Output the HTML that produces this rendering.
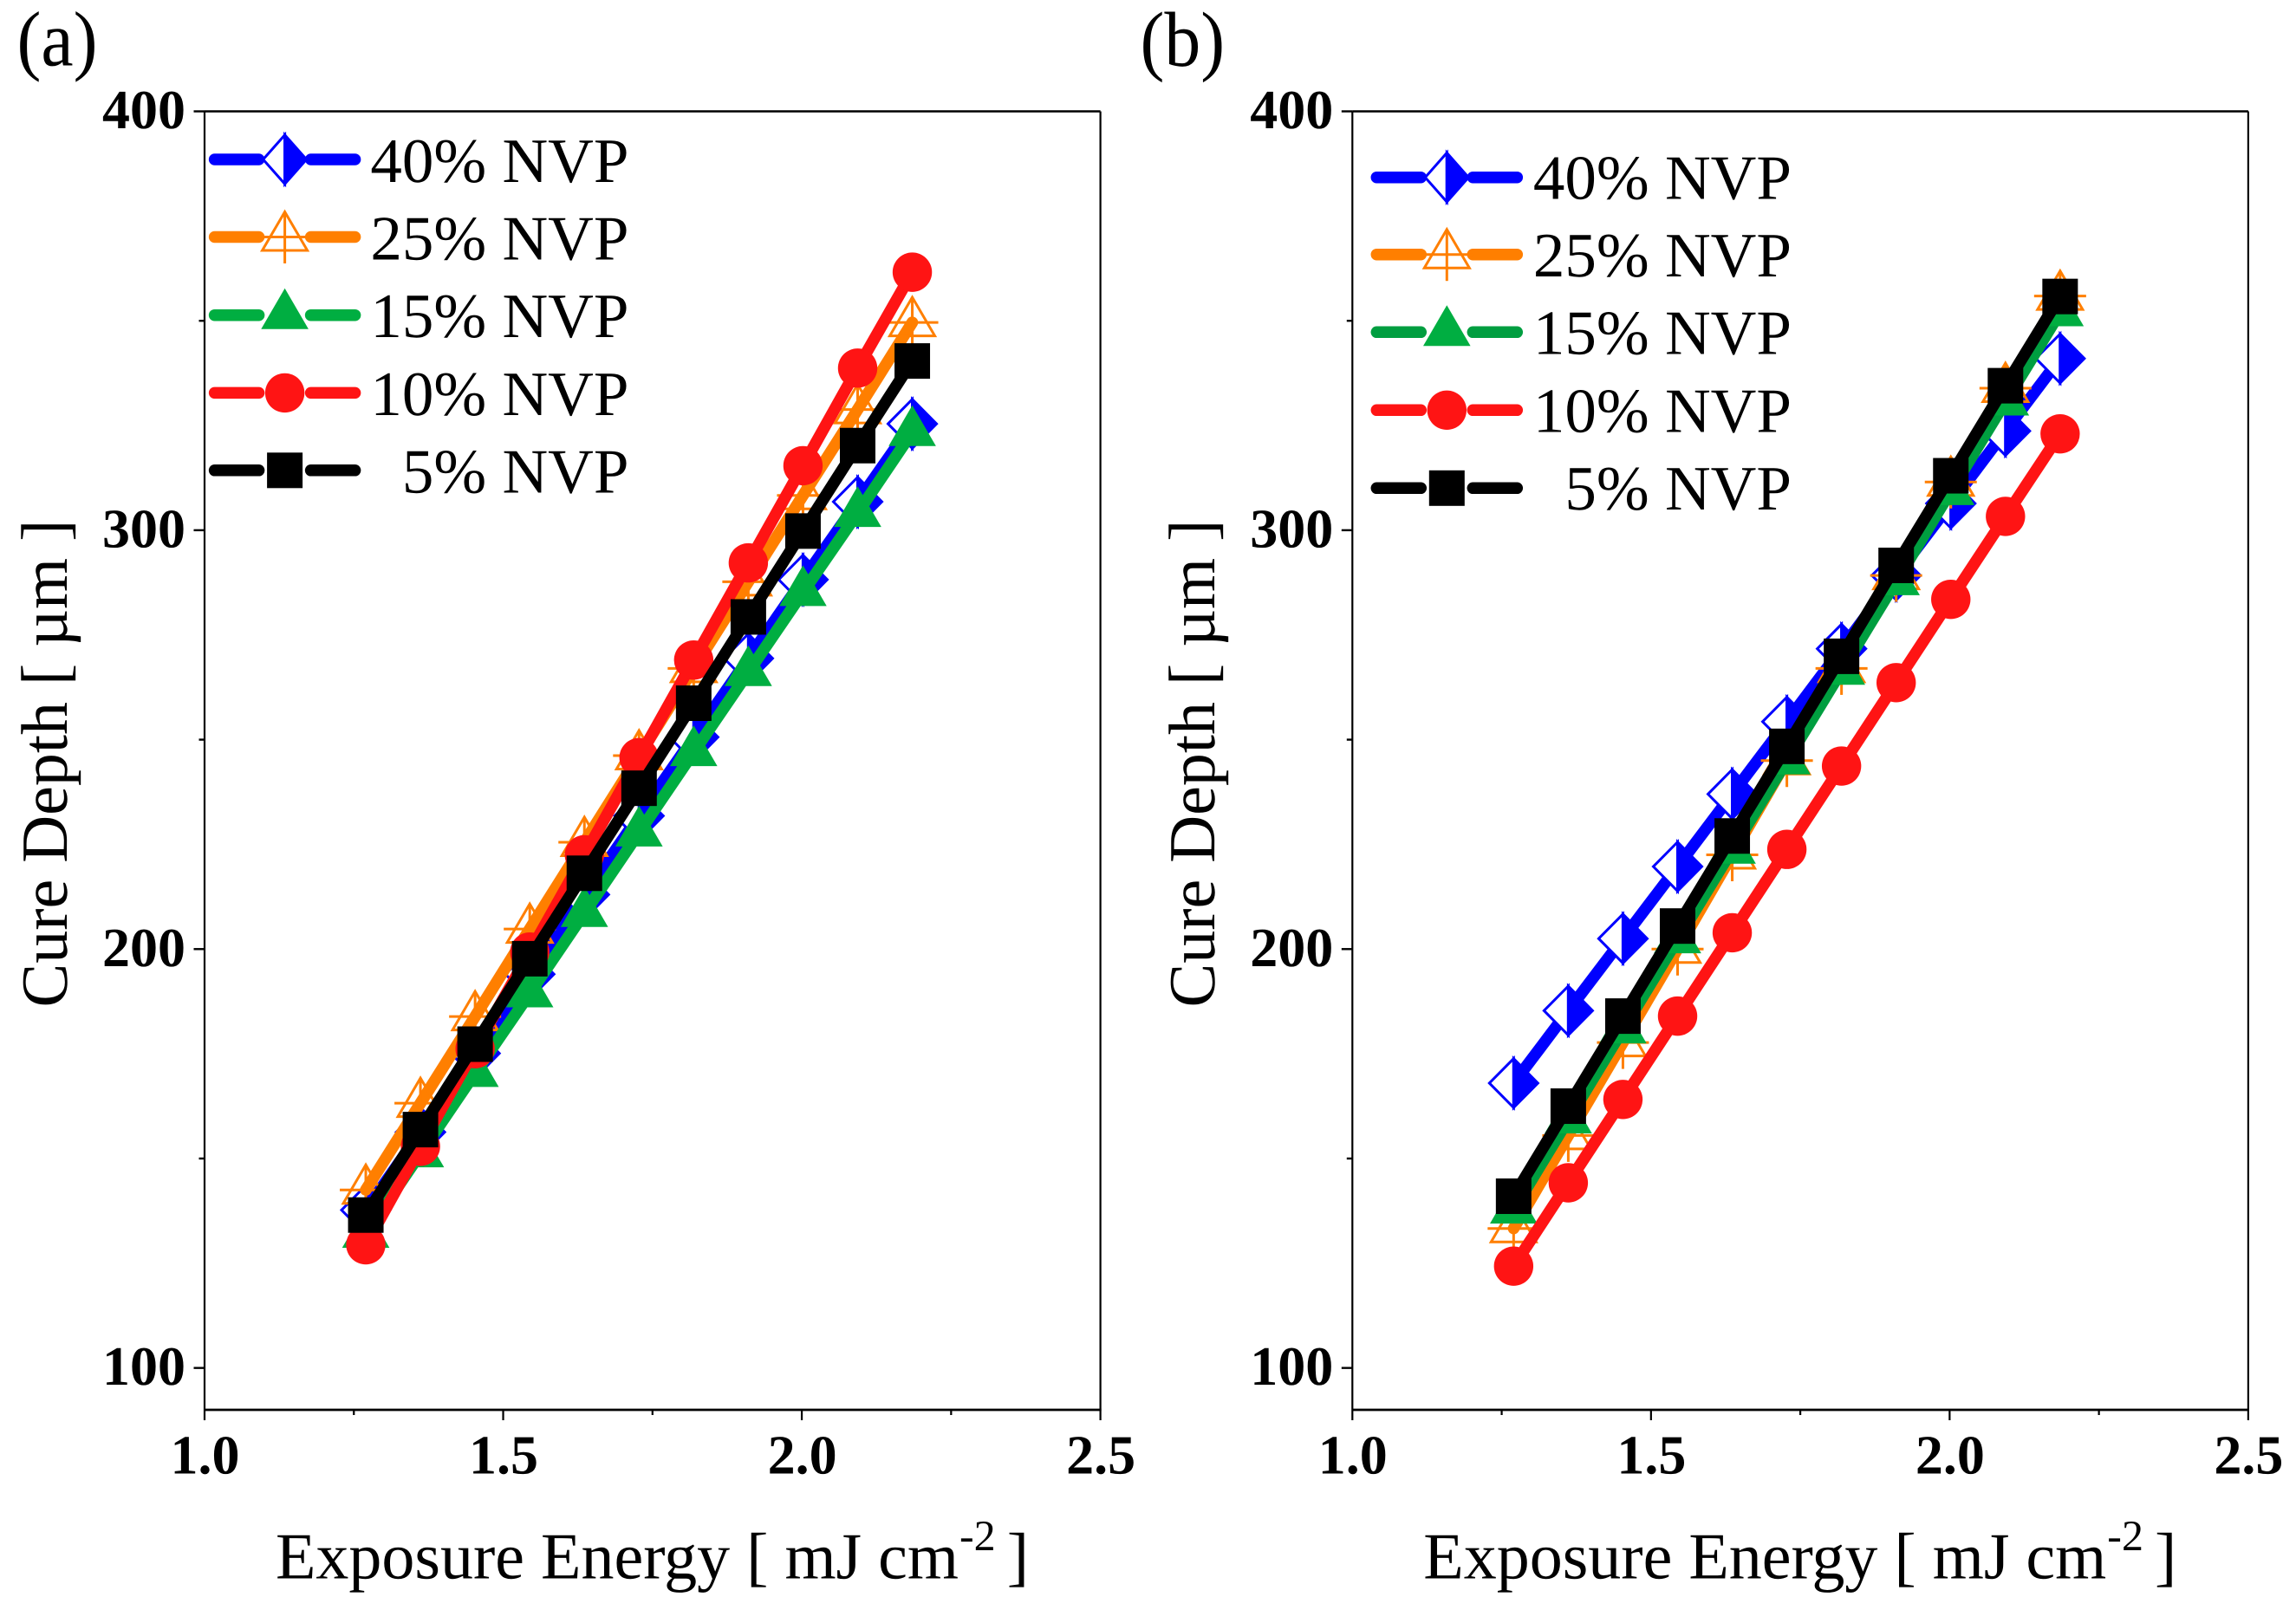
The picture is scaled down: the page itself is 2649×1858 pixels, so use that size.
<!DOCTYPE html>
<html lang="en">
<head>
<meta charset="utf-8">
<title>Cure Depth vs Exposure Energy</title>
<style>
  html, body { margin: 0; padding: 0; background: #fff; }
  svg { display: block; }
  text { font-family: "Liberation Serif", "Times New Roman", serif; fill: #000; text-rendering: geometricPrecision; }
  .title { font-size: 76px; }
  .legend-text { font-size: 73px; text-anchor: end; }
  .panel-label { font-size: 90px; }
  .tick-label { font-size: 64px; font-weight: bold; }
</style>
</head>
<body>
<svg id="figure" xmlns="http://www.w3.org/2000/svg" width="2649" height="1858" viewBox="0 0 2649 1858">
  <rect x="0" y="0" width="2649" height="1858" fill="#ffffff"/>

  <g id="panel-a">
    <text class="panel-label" x="19.5" y="75.5" textLength="93" lengthAdjust="spacingAndGlyphs">(a)</text>
    <g id="panel-a-axes"></g>
    <g id="panel-a-series"></g>
    <text class="title" text-anchor="middle" transform="translate(77,881) rotate(-90)">Cure Depth [ µm ]</text>
    <text class="title" x="318" y="1821.5">Exposure Energy [ mJ cm</text>
    <text x="1107" y="1789" font-size="50">-2</text>
    <text class="title" x="1187" y="1821.5" text-anchor="end">]</text>
    <g id="panel-a-legend">
      <text class="legend-text" x="725.5" y="210">40% NVP</text>
      <text class="legend-text" x="725.5" y="299.5">25% NVP</text>
      <text class="legend-text" x="725.5" y="389">15% NVP</text>
      <text class="legend-text" x="725.5" y="479">10% NVP</text>
      <text class="legend-text" x="725.5" y="568.5">5% NVP</text>
    </g>
  </g>

  <g id="panel-b">
    <text class="panel-label" x="1315.5" y="76" textLength="97.6" lengthAdjust="spacingAndGlyphs">(b)</text>
    <g id="panel-b-axes"></g>
    <g id="panel-b-series"></g>
    <text class="title" text-anchor="middle" transform="translate(1401,881) rotate(-90)">Cure Depth [ µm ]</text>
    <text class="title" x="1642.3" y="1821.5">Exposure Energy [ mJ cm</text>
    <text x="2431.3" y="1789" font-size="50">-2</text>
    <text class="title" x="2511.3" y="1821.5" text-anchor="end">]</text>
    <g id="panel-b-legend">
      <text class="legend-text" x="2067" y="229.5">40% NVP</text>
      <text class="legend-text" x="2067" y="319">25% NVP</text>
      <text class="legend-text" x="2067" y="408.5">15% NVP</text>
      <text class="legend-text" x="2067" y="498.5">10% NVP</text>
      <text class="legend-text" x="2067" y="588">5% NVP</text>
    </g>
  </g>
</svg>

<script>
// ---- chart data ----
var exposureEnergy = [1.270, 1.3615, 1.453, 1.5445, 1.636, 1.7275, 1.819, 1.9105, 2.002, 2.0935, 2.185];

var panelA40 = [137.7, 156.3, 175.1, 194.0, 213.0, 231.8, 250.6, 269.4, 288.2, 306.8, 325.4];
var panelA25 = [142.5, 163.2, 183.9, 204.8, 225.5, 246.2, 267.0, 287.7, 308.3, 328.8, 349.6];
var panelA15 = [132.0, 151.2, 170.4, 189.4, 208.6, 227.8, 247.0, 266.1, 285.2, 304.1, 323.4];
var panelA10 = [129.4, 152.9, 176.2, 199.3, 222.5, 245.7, 269.0, 292.2, 315.4, 338.7, 361.6];
var panelA5  = [136.5, 156.9, 177.3, 197.7, 218.1, 238.4, 258.7, 279.3, 299.8, 320.2, 340.4];

var panelB40 = [168.0, 185.3, 202.5, 219.7, 237.0, 254.3, 271.7, 289.2, 306.4, 323.7, 341.0];
var panelB25 = [133.3, 155.5, 177.7, 200.0, 222.5, 245.0, 267.0, 289.2, 311.5, 333.9, 355.9];
var panelB15 = [137.8, 159.3, 180.8, 202.3, 223.7, 245.0, 266.4, 287.8, 309.3, 330.7, 352.0];
var panelB10 = [124.3, 144.2, 164.1, 184.0, 203.9, 223.8, 243.7, 263.6, 283.5, 303.3, 323.0];
var panelB5  = [141.0, 162.5, 184.0, 205.5, 227.0, 248.4, 269.9, 291.6, 313.0, 334.5, 355.8];

var xMajorTicks = [1.0, 1.5, 2.0, 2.5];
var xTickLabels = ["1.0", "1.5", "2.0", "2.5"];
var xMinorTicks = [1.25, 1.75, 2.25];
var yMajorTicks = [100, 200, 300, 400];
var yTickLabels = ["100", "200", "300", "400"];
var yMinorTicks = [150, 250, 350];

// ---- layout ----
var SVG_NS = "http://www.w3.org/2000/svg";
var X_MIN = 1.0, X_MAX = 2.5, Y_MIN = 90, Y_MAX = 400;
var PLOT_TOP = 128.5, PLOT_BOTTOM = 1627, PLOT_WIDTH = 1033.6;

var BLUE = "#0000ff", ORANGE = "#ff7f00", RED = "#ff1414", BLACK = "#000000", GREEN_MARK = "#00ae41", GREEN_DARK = "#009e40";

function xPos(left, v) { return left + (v - X_MIN) / (X_MAX - X_MIN) * PLOT_WIDTH; }
function yPos(v) { return PLOT_TOP + (Y_MAX - v) / (Y_MAX - Y_MIN) * (PLOT_BOTTOM - PLOT_TOP); }

function make(tag, parent) {
  var el = document.createElementNS(SVG_NS, tag);
  parent.appendChild(el);
  return el;
}

function axisLine(parent, name, x1, y1, x2, y2, w) {
  var l = make("line", parent);
  
  
  l.setAttribute("x1", x1); l.setAttribute("y1", y1);
  l.setAttribute("x2", x2); l.setAttribute("y2", y2);
  l.setAttribute("stroke", "#000");
  l.setAttribute("stroke-width", w);
}

function drawAxes(parent, left) {
  var right = left + PLOT_WIDTH;
  axisLine(parent, "left-axis-line", left, PLOT_TOP, left, PLOT_BOTTOM, 2.2);
  axisLine(parent, "right-axis-line", right, PLOT_TOP, right, PLOT_BOTTOM, 2.2);
  axisLine(parent, "top-axis-line", left, PLOT_TOP, right, PLOT_TOP, 2.6);
  axisLine(parent, "bottom-axis-line", left, PLOT_BOTTOM, right + 1, PLOT_BOTTOM, 2.8);
  xMajorTicks.forEach(function (v, i) {
    var x = xPos(left, v);
    axisLine(parent, "x-major-tick", x, PLOT_BOTTOM, x, PLOT_BOTTOM + 12, 2.2);
    var t = make("text", parent);
    
    
    t.setAttribute("class", "tick-label");
    t.setAttribute("x", x + 0.5);
    t.setAttribute("y", 1700.5);
    t.setAttribute("text-anchor", "middle");
    t.textContent = xTickLabels[i];
  });
  xMinorTicks.forEach(function (v) {
    var x = xPos(left, v);
    axisLine(parent, "x-minor-tick", x, PLOT_BOTTOM, x, PLOT_BOTTOM + 6, 2.2);
  });
  yMajorTicks.forEach(function (v, i) {
    var y = yPos(v);
    axisLine(parent, "y-major-tick", left - 12.5, y, left, y, 2.4);
    var t = make("text", parent);
    
    
    t.setAttribute("class", "tick-label");
    t.setAttribute("x", left - 22);
    t.setAttribute("y", y + 19.5);
    t.setAttribute("text-anchor", "end");
    t.textContent = yTickLabels[i];
  });
  yMinorTicks.forEach(function (v) {
    var y = yPos(v);
    axisLine(parent, "y-minor-tick", left - 6.5, y, left, y, 2.4);
  });
}

function shape(parent, tag, name, attrs) {
  var s = make(tag, parent);
  
  
  Object.keys(attrs).forEach(function (k) { s.setAttribute(k, attrs[k]); });
  return s;
}

function drawMarker(parent, kind, x, y, diamondHalfWidth) {
  var dw = diamondHalfWidth || 28;
  if (kind === "half-diamond") {
    shape(parent, "polygon", "half-diamond-marker-open-side", {
      points: (x - dw) + "," + y + " " + x + "," + (y - 28.3) + " " + x + "," + (y + 28.3),
      fill: "#ffffff", stroke: BLUE, "stroke-width": 3, "stroke-linejoin": "miter"
    });
    shape(parent, "polygon", "half-diamond-marker-solid-side", {
      points: x + "," + (y - 28.3) + " " + (x + dw) + "," + y + " " + x + "," + (y + 28.3),
      fill: BLUE, stroke: BLUE, "stroke-width": 3, "stroke-linejoin": "miter"
    });
  } else if (kind === "cross-triangle") {
    shape(parent, "polygon", "cross-triangle-marker-outline", {
      points: x + "," + (y - 29) + " " + (x + 26) + "," + (y + 15.5) + " " + (x - 26) + "," + (y + 15.5),
      fill: "none", stroke: ORANGE, "stroke-width": 3
    });
    shape(parent, "line", "cross-triangle-marker-vertical", {
      x1: x, y1: y - 29, x2: x, y2: y + 30.5, stroke: ORANGE, "stroke-width": 3
    });
    shape(parent, "line", "cross-triangle-marker-horizontal", {
      x1: x - 30, y1: y, x2: x + 30, y2: y, stroke: ORANGE, "stroke-width": 3
    });
  } else if (kind === "triangle") {
    shape(parent, "polygon", "triangle-marker", {
      points: x + "," + (y - 31) + " " + (x + 27.3) + "," + (y + 16) + " " + (x - 27.3) + "," + (y + 16),
      fill: GREEN_MARK
    });
  } else if (kind === "circle") {
    shape(parent, "circle", "circle-marker", { cx: x, cy: y, r: 22.7, fill: RED });
  } else if (kind === "square") {
    shape(parent, "rect", "square-marker", { x: x - 20.5, y: y - 20.5, width: 41, height: 41, fill: BLACK });
  }
}

function drawSeries(parent, name, left, values, color, kind) {
  var g = make("g", parent);
  
  
  var pts = values.map(function (v, i) {
    return xPos(left, exposureEnergy[i]).toFixed(2) + "," + yPos(v).toFixed(2);
  }).join(" ");
  var line = make("polyline", g);
  
  
  line.setAttribute("points", pts);
  line.setAttribute("fill", "none");
  line.setAttribute("stroke", color);
  line.setAttribute("stroke-width", 13.5);
  line.setAttribute("stroke-linecap", "round");
  line.setAttribute("stroke-linejoin", "round");
  values.forEach(function (v, i) {
    drawMarker(g, kind, xPos(left, exposureEnergy[i]), yPos(v));
  });
}

function drawLegendKey(parent, name, cx, y, color, kind) {
  var g = make("g", parent);
  
  
  [[-81, -30], [30, 81]].forEach(function (seg) {
    var l = make("line", g);
    
    
    l.setAttribute("x1", cx + seg[0]); l.setAttribute("y1", y);
    l.setAttribute("x2", cx + seg[1]); l.setAttribute("y2", y);
    l.setAttribute("stroke", color);
    l.setAttribute("stroke-width", 13.5);
    l.setAttribute("stroke-linecap", "round");
  });
  drawMarker(g, kind, cx, y, 25);
}

var LEFT_A = 236, LEFT_B = 1560.3;

drawAxes(document.getElementById("panel-a-axes"), LEFT_A);
drawAxes(document.getElementById("panel-b-axes"), LEFT_B);

var seriesA = document.getElementById("panel-a-series");
drawSeries(seriesA, "series-40-nvp", LEFT_A, panelA40, BLUE, "half-diamond");
drawSeries(seriesA, "series-25-nvp", LEFT_A, panelA25, ORANGE, "cross-triangle");
drawSeries(seriesA, "series-15-nvp", LEFT_A, panelA15, GREEN_MARK, "triangle");
drawSeries(seriesA, "series-10-nvp", LEFT_A, panelA10, RED, "circle");
drawSeries(seriesA, "series-5-nvp", LEFT_A, panelA5, BLACK, "square");

var seriesB = document.getElementById("panel-b-series");
drawSeries(seriesB, "series-40-nvp", LEFT_B, panelB40, BLUE, "half-diamond");
drawSeries(seriesB, "series-25-nvp", LEFT_B, panelB25, ORANGE, "cross-triangle");
drawSeries(seriesB, "series-15-nvp", LEFT_B, panelB15, GREEN_DARK, "triangle");
drawSeries(seriesB, "series-10-nvp", LEFT_B, panelB10, RED, "circle");
drawSeries(seriesB, "series-5-nvp", LEFT_B, panelB5, BLACK, "square");

var legendA = document.getElementById("panel-a-legend");
drawLegendKey(legendA, "legend-key-40-nvp", 328.6, 184, BLUE, "half-diamond");
drawLegendKey(legendA, "legend-key-25-nvp", 328.6, 273.5, ORANGE, "cross-triangle");
drawLegendKey(legendA, "legend-key-15-nvp", 328.6, 363.7, GREEN_MARK, "triangle");
drawLegendKey(legendA, "legend-key-10-nvp", 328.6, 453.4, RED, "circle");
drawLegendKey(legendA, "legend-key-5-nvp", 328.6, 542.8, BLACK, "square");

var legendB = document.getElementById("panel-b-legend");
drawLegendKey(legendB, "legend-key-40-nvp", 1669.3, 204.7, BLUE, "half-diamond");
drawLegendKey(legendB, "legend-key-25-nvp", 1669.3, 293.7, ORANGE, "cross-triangle");
drawLegendKey(legendB, "legend-key-15-nvp", 1669.3, 383.3, GREEN_DARK, "triangle");
drawLegendKey(legendB, "legend-key-10-nvp", 1669.3, 473.3, RED, "circle");
drawLegendKey(legendB, "legend-key-5-nvp", 1669.3, 563.3, BLACK, "square");
</script>
</body>
</html>
